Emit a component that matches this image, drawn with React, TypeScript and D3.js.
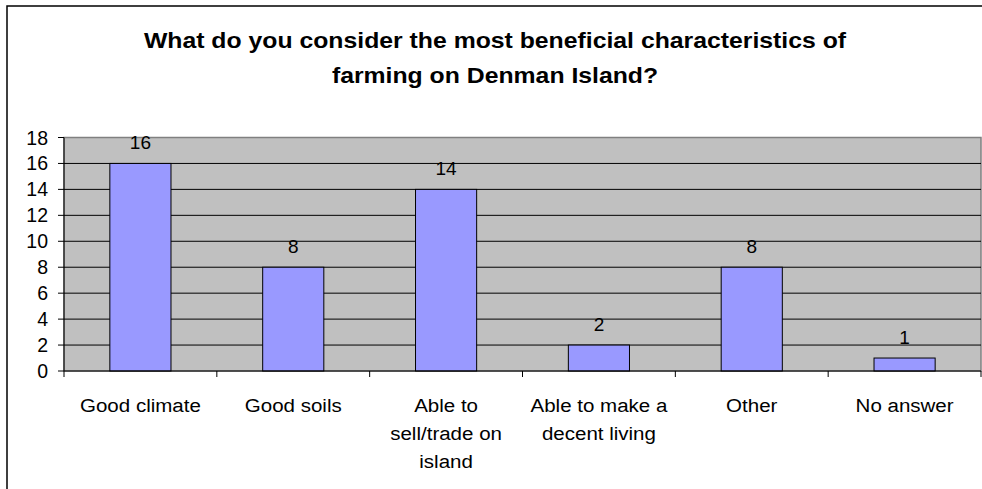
import React from "react";
import * as d3 from "d3";

const categories: string[][] = [
  ["Good climate"],
  ["Good soils"],
  ["Able to", "sell/trade on", "island"],
  ["Able to make a", "decent living"],
  ["Other"],
  ["No answer"],
];
const counts: number[] = [16, 8, 14, 2, 8, 1];
const yTicks: number[] = [0, 2, 4, 6, 8, 10, 12, 14, 16, 18];
const titleLines: string[] = [
  "What do you consider the most beneficial characteristics of",
  "farming on Denman Island?",
];

const W = 982;
const H = 489;
const plot = { left: 64, right: 981, top: 137.5, bottom: 371 };
const font = "'Liberation Sans', Arial, sans-serif";

export default function App() {
  const ids = categories.map((_, i) => String(i));
  const x = d3.scaleBand<string>().domain(ids).range([plot.left, plot.right]).paddingInner(0).paddingOuter(0);
  const y = d3.scaleLinear().domain([0, 18]).range([plot.bottom, plot.top]);
  const bw = x.bandwidth();
  const barW = bw * 0.4;
  const tickXs = d3.range(categories.length + 1).map((k) => plot.left + k * bw);

  return (
    <svg width={W} height={H} style={{ position: "absolute", left: 0, top: 0, background: "#fff" }} fontFamily={font}>
      <rect x={7} y={6} width={W} height={H} fill="#fff" stroke="#000" strokeWidth={1.5} />
      {titleLines.map((t, i) => (
        <g key={i} transform={`translate(495,${48 + i * 34.5}) scale(1.127,1)`}>
          <text x={0} y={0} textAnchor="middle" fontWeight="bold" fontSize={22} fill="#000">
            {t}
          </text>
        </g>
      ))}
      <rect x={plot.left} y={plot.top} width={plot.right - plot.left} height={plot.bottom - plot.top} fill="#C0C0C0" stroke="#808080" strokeWidth={1.5} />
      {yTicks.filter((t) => t > 0 && t < 18).map((t) => (
        <line key={t} x1={plot.left} x2={plot.right} y1={y(t)} y2={y(t)} stroke="#000" strokeWidth={1} />
      ))}
      {counts.map((v, i) => (
        <rect
          key={i}
          x={(x(ids[i]) as number) + (bw - barW) / 2}
          y={y(v)}
          width={barW}
          height={y(0) - y(v)}
          fill="#9999FF"
          stroke="#000"
          strokeWidth={1}
        />
      ))}
      {counts.map((v, i) => (
        <text key={i} x={(x(ids[i]) as number) + bw / 2} y={y(v) - 14} textAnchor="middle" fontSize={19} fill="#000">
          {v}
        </text>
      ))}
      <line x1={plot.left} x2={plot.left} y1={plot.top} y2={plot.bottom} stroke="#000" strokeWidth={1} />
      <line x1={plot.left} x2={plot.right} y1={plot.bottom} y2={plot.bottom} stroke="#000" strokeWidth={1} />
      {yTicks.map((t) => (
        <g key={t}>
          <line x1={plot.left - 6} x2={plot.left} y1={y(t)} y2={y(t)} stroke="#000" strokeWidth={1} />
          <text x={48} y={y(t)} dy="0.36em" textAnchor="end" fontSize={19.5} fill="#000">
            {t}
          </text>
        </g>
      ))}
      {tickXs.map((tx, k) => (
        <line key={k} x1={tx} x2={tx} y1={plot.bottom} y2={plot.bottom + 6} stroke="#000" strokeWidth={1} />
      ))}
      {categories.map((lines, i) => (
        <g key={i} transform={`translate(${(x(ids[i]) as number) + bw / 2},0) scale(1.08,1)`}>
          <text textAnchor="middle" fontSize={19} fill="#000">
            {lines.map((ln, j) => (
              <tspan key={j} x={0} y={412.5 + j * 28}>
                {ln}
              </tspan>
            ))}
          </text>
        </g>
      ))}
    </svg>
  );
}
